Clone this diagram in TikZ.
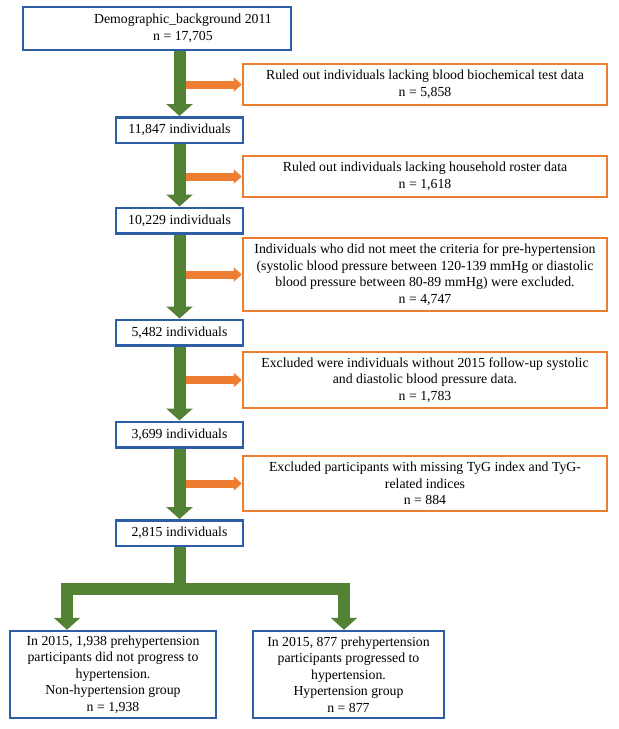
\documentclass[tikz,border=0pt]{standalone}
\usepackage{fontspec}
\setmainfont{Liberation Serif}
\usetikzlibrary{arrows.meta,calc}
\definecolor{bblue}{HTML}{2E5EA6}
\definecolor{borange}{HTML}{ED7D31}
\definecolor{bgreen}{HTML}{548235}
\tikzset{
  box/.style={draw, line width=2.5pt, inner sep=0pt, align=center, fill=white,
    font=\fontsize{13.8}{16.6}\selectfont},
  bluebox/.style={box, draw=bblue},
  orbox/.style={box, draw=borange, minimum width=364pt},
  smallbox/.style={bluebox, minimum width=127pt, minimum height=25.5pt},
  gar/.style={draw=bgreen, line width=12pt, line join=miter, -{Triangle[width=26pt,length=12pt]}},
  gline/.style={draw=bgreen, line width=12pt},
  oar/.style={draw=borange, line width=8pt, -{Triangle[width=14pt,length=8pt]}}
}
\begin{document}
\begin{tikzpicture}[x=1pt,y=-1pt]
\useasboundingbox[fill=white] (0,0) rectangle (619,729);

\node[bluebox, minimum width=268pt, minimum height=43pt] (top) at (157,28.5)
  {\hspace*{52pt}\begin{tabular}{@{}c@{}}Demographic\_background 2011\\n = 17,705\end{tabular}};
\node[orbox, minimum height=41pt] (o1) at (425,84.5)
  {Ruled out individuals lacking blood biochemical test data\\n = 5,858};
\node[smallbox] (b2) at (179.5,130) {11,847 individuals};
\node[orbox, minimum height=41pt] (o2) at (425,176.5)
  {Ruled out individuals lacking household roster data\\n = 1,618};
\node[smallbox] (b3) at (179.5,220.5) {10,229 individuals};
\node[orbox, minimum height=73pt] (o3) at (425,274.5)
  {Individuals who did not meet the criteria for pre-hypertension\\(systolic blood pressure between 120-139 mmHg or diastolic\\blood pressure between 80-89 mmHg) were excluded.\\n = 4,747};
\node[smallbox] (b4) at (179.5,332.5) {5,482 individuals};
\node[orbox, minimum height=56pt] (o4) at (425,380)
  {Excluded were individuals without 2015 follow-up systolic\\and diastolic blood pressure data.\\n = 1,783};
\node[smallbox] (b5) at (179.5,434.5) {3,699 individuals};
\node[orbox, minimum height=55pt] (o5) at (425,483.5)
  {Excluded participants with missing TyG index and TyG-\\related indices\\n = 884};
\node[smallbox] (b6) at (179.5,533) {2,815 individuals};
\node[bluebox, minimum width=206pt, minimum height=87pt] (g1) at (113,674.5)
  {In 2015, 1,938 prehypertension\\participants did not progress to\\hypertension.\\Non-hypertension group\\n = 1,938};
\node[bluebox, minimum width=191pt, minimum height=87pt] (g2) at (348.5,674.5)
  {In 2015, 877 prehypertension\\participants progressed to\\hypertension.\\Hypertension group\\n = 877};

% orange side arrows
\foreach \o/\b in {o1/b2,o2/b2,o3/b3,o4/b4,o5/b5}{
  \draw[oar] ($(\o.west -| \b.south)+(6,0)$) -- (\o.west);
}
% green main arrows
\draw[gar] (b2.north |- top.south) -- (b2.north);
\draw[gar] (b2.south) -- (b3.north);
\draw[gar] (b3.south) -- (b4.north);
\draw[gar] (b4.south) -- (b5.north);
\draw[gar] (b5.south) -- (b6.north);

% split
\coordinate (split) at (179.5,589);
\coordinate (lb) at (67,589);
\coordinate (rb) at (344,589);
\draw[gline] (b6.south) -- ($(split)+(0,-6)$);
\draw[gar] (split) -- (lb) -- (lb |- g1.north);
\draw[gar] (split) -- (rb) -- (rb |- g2.north);
\end{tikzpicture}
\end{document}
